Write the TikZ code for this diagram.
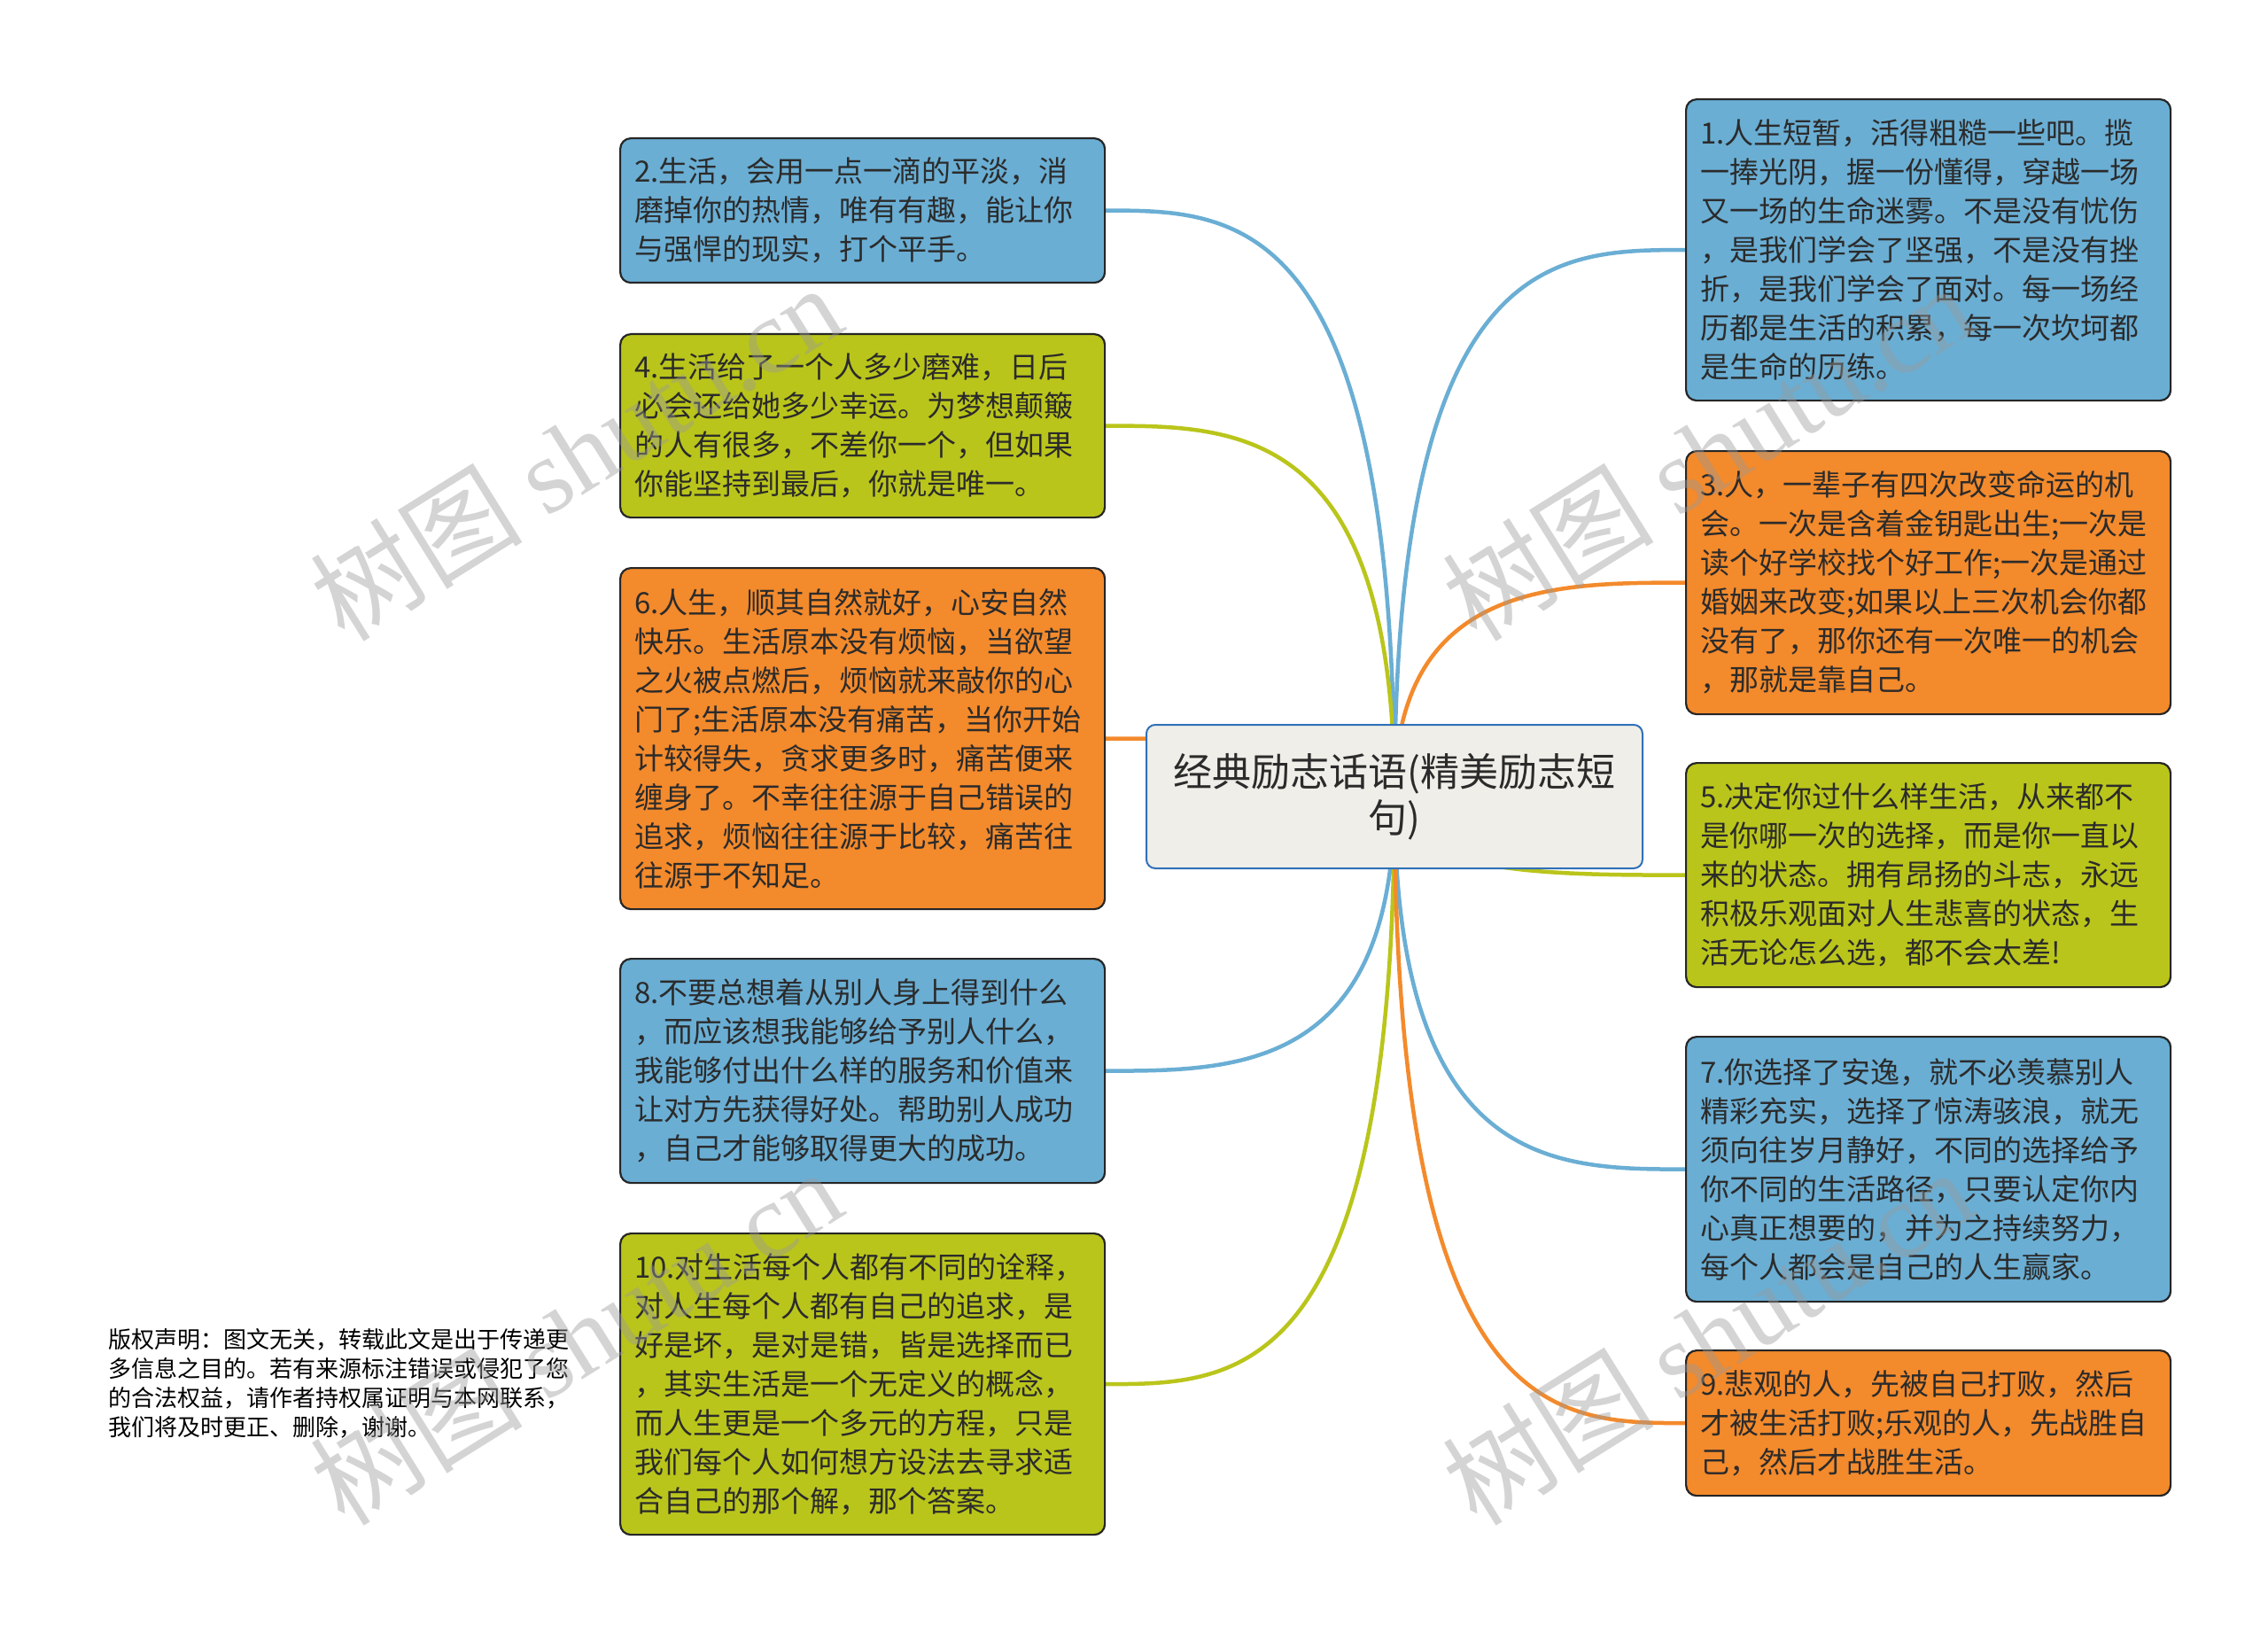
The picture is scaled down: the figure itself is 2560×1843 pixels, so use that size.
\documentclass[tikz,border=0pt]{standalone}
\usepackage{fontspec}
\setmainfont{Noto Sans CJK SC}
\newfontfamily\cjkf{Noto Sans CJK SC}
\newfontfamily\wmserif{Liberation Serif}
\usetikzlibrary{calc}
\pgfdeclarelayer{bglayer}
\pgfdeclarelayer{linelayer}
\pgfdeclarelayer{fglayer}
\pgfsetlayers{bglayer,linelayer,main,fglayer}
\definecolor{bluef}{HTML}{6AAED4}
\definecolor{greenf}{HTML}{BAC51B}
\definecolor{orangef}{HTML}{F38A2C}
\definecolor{txt}{HTML}{2B2B2B}
\definecolor{cfill}{HTML}{EFEEE8}
\definecolor{cborder}{HTML}{3070B8}
\definecolor{wmgray}{HTML}{999999}
\tikzset{
  box/.style={draw=black!85, line width=2.2pt, rounded corners=12pt, anchor=north west,
    text width=515pt, inner xsep=16pt, inner ysep=0pt, align=left,
    font=\fontsize{33}{44}\selectfont, text=txt},
  bluebox/.style={box, fill=bluef},
  greenbox/.style={box, fill=greenf},
  orangebox/.style={box, fill=orangef},
  centralbox/.style={draw=cborder, fill=cfill, line width=2pt, rounded corners=10pt,
    minimum width=560pt, minimum height=162pt, align=center,
    font=\fontsize{44}{52}\selectfont, text=txt},
  conn/.style={draw=#1, line width=4.5pt},
  wm/.style={text=wmgray, text opacity=0.42, rotate=32, inner sep=0pt,
    font=\fontsize{120}{120}\selectfont},
  note/.style={anchor=west, inner sep=0pt, align=left, font=\fontsize{26}{33}\selectfont, text=black}
}
\begin{document}
\begin{tikzpicture}[x=1pt,y=-1pt]
\begin{pgfonlayer}{bglayer}
\fill[white] (0,0) rectangle (2560,1843);
\end{pgfonlayer}
\useasboundingbox (0,0) rectangle (2560,1843);

% central
\node[centralbox] (c) at (1574,899) {经典励志话语(精美励志短\\句)};

% left boxes
\node[bluebox, minimum height=163pt] (b2) at (699,155) {2.生活，会用一点一滴的平淡，消\\磨掉你的热情，唯有有趣，能让你\\与强悍的现实，打个平手。};
\node[greenbox, minimum height=207pt] (b4) at (699,376) {4.生活给了一个人多少磨难，日后\\必会还给她多少幸运。为梦想颠簸\\的人有很多，不差你一个，但如果\\你能坚持到最后，你就是唯一。};
\node[orangebox, minimum height=385pt] (b6) at (699,640) {6.人生，顺其自然就好，心安自然\\快乐。生活原本没有烦恼，当欲望\\之火被点燃后，烦恼就来敲你的心\\门了;生活原本没有痛苦，当你开始\\计较得失，贪求更多时，痛苦便来\\缠身了。不幸往往源于自己错误的\\追求，烦恼往往源于比较，痛苦往\\往源于不知足。};
\node[bluebox, minimum height=253pt] (b8) at (699,1081) {8.不要总想着从别人身上得到什么\\，而应该想我能够给予别人什么，\\我能够付出什么样的服务和价值来\\让对方先获得好处。帮助别人成功\\，自己才能够取得更大的成功。};
\node[greenbox, minimum height=340pt] (b10) at (699,1391) {10.对生活每个人都有不同的诠释，\\对人生每个人都有自己的追求，是\\好是坏，是对是错，皆是选择而已\\，其实生活是一个无定义的概念，\\而人生更是一个多元的方程，只是\\我们每个人如何想方设法去寻求适\\合自己的那个解，那个答案。};

% right boxes
\node[bluebox, minimum height=340pt] (b1) at (1902,111) {1.人生短暂，活得粗糙一些吧。揽\\一捧光阴，握一份懂得，穿越一场\\又一场的生命迷雾。不是没有忧伤\\，是我们学会了坚强，不是没有挫\\折，是我们学会了面对。每一场经\\历都是生活的积累，每一次坎坷都\\是生命的历练。};
\node[orangebox, minimum height=297pt] (b3) at (1902,508) {3.人，一辈子有四次改变命运的机\\会。一次是含着金钥匙出生;一次是\\读个好学校找个好工作;一次是通过\\婚姻来改变;如果以上三次机会你都\\没有了，那你还有一次唯一的机会\\，那就是靠自己。};
\node[greenbox, minimum height=253pt] (b5) at (1902,860) {5.决定你过什么样生活，从来都不\\是你哪一次的选择，而是你一直以\\来的状态。拥有昂扬的斗志，永远\\积极乐观面对人生悲喜的状态，生\\活无论怎么选，都不会太差!};
\node[bluebox, minimum height=299pt] (b7) at (1902,1169) {7.你选择了安逸，就不必羡慕别人\\精彩充实，选择了惊涛骇浪，就无\\须向往岁月静好，不同的选择给予\\你不同的生活路径，只要认定你内\\心真正想要的，并为之持续努力，\\每个人都会是自己的人生赢家。};
\node[orangebox, minimum height=164pt] (b9) at (1902,1523) {9.悲观的人，先被自己打败，然后\\才被生活打败;乐观的人，先战胜自\\己，然后才战胜生活。};

% copyright note
\node[note] (cr) at (122,1561) {版权声明：图文无关，转载此文是出于传递更\\多信息之目的。若有来源标注错误或侵犯了您\\的合法权益，请作者持权属证明与本网联系，\\我们将及时更正、删除，谢谢。};

% connectors
\begin{pgfonlayer}{linelayer}
\draw[conn=bluef] (c.center) .. controls (c.center |- b2.east) and ([xshift=148pt]b2.east) .. (b2.east);
\draw[conn=greenf] (c.center) .. controls (c.center |- b4.east) and ([xshift=148pt]b4.east) .. (b4.east);
\draw[conn=orangef] (c.center) .. controls (c.center |- b6.east) and ([xshift=148pt]b6.east) .. (b6.east);
\draw[conn=bluef] (c.center) .. controls (c.center |- b8.east) and ([xshift=148pt]b8.east) .. (b8.east);
\draw[conn=greenf] (c.center) .. controls (c.center |- b10.east) and ([xshift=148pt]b10.east) .. (b10.east);
\draw[conn=bluef] (c.center) .. controls (c.center |- b1.west) and ([xshift=-148pt]b1.west) .. (b1.west);
\draw[conn=orangef] (c.center) .. controls (c.center |- b3.west) and ([xshift=-148pt]b3.west) .. (b3.west);
\draw[conn=greenf] (c.center) .. controls (c.center |- b5.west) and ([xshift=-148pt]b5.west) .. (b5.west);
\draw[conn=bluef] (c.center) .. controls (c.center |- b7.west) and ([xshift=-148pt]b7.west) .. (b7.west);
\draw[conn=orangef] (c.center) .. controls (c.center |- b9.west) and ([xshift=-148pt]b9.west) .. (b9.west);
\end{pgfonlayer}

% watermarks
\begin{pgfonlayer}{fglayer}
\node[wm] (w1) at (650,510) {\cjkf 树图 \wmserif shutu.cn};
\node[wm] (w2) at (1927,510) {\cjkf 树图 \wmserif shutu.cn};
\node[wm] (w3) at (650,1508) {\cjkf 树图 \wmserif shutu.cn};
\node[wm] (w4) at (1927,1508) {\cjkf 树图 \wmserif shutu.cn};
\end{pgfonlayer}
\end{tikzpicture}
\end{document}
